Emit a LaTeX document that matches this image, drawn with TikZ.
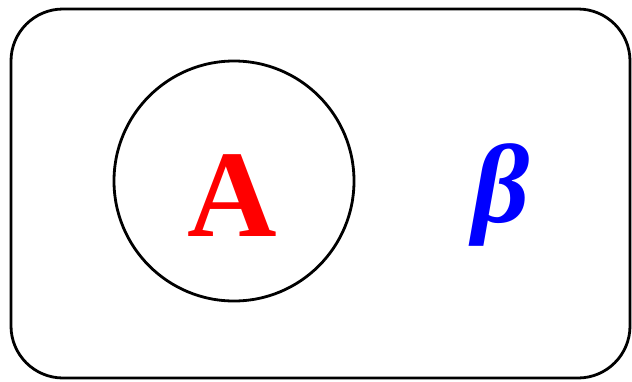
\documentclass[tikz,border=0pt]{standalone}
\usepackage{fontspec}
\setmainfont{Liberation Serif}
\usetikzlibrary{positioning}
\tikzset{
  vnedge/.style={draw=black, line width=2.8pt},
  vnlbl/.style={font=\bfseries, inner sep=0pt},
  every picture/.append style={line join=round}
}
\begin{document}
\begin{tikzpicture}[x=1pt,y=-1pt]
  \useasboundingbox (0,0) rectangle (632,381);
  \draw[vnedge, rounded corners=52pt] (11,9) rectangle (630,378);
  \node[vnedge, circle, minimum size=240pt, inner sep=0pt] (setA) at (234,181) {};
  \node[vnlbl, text=red, font=\fontsize{124}{124}\selectfont\bfseries] (lblA) at (232,196) {A};
  \node[vnlbl, text=blue, font=\fontsize{112}{112}\selectfont\bfseries\itshape] (lblB) at (501,195) {β};
\end{tikzpicture}
\end{document}
